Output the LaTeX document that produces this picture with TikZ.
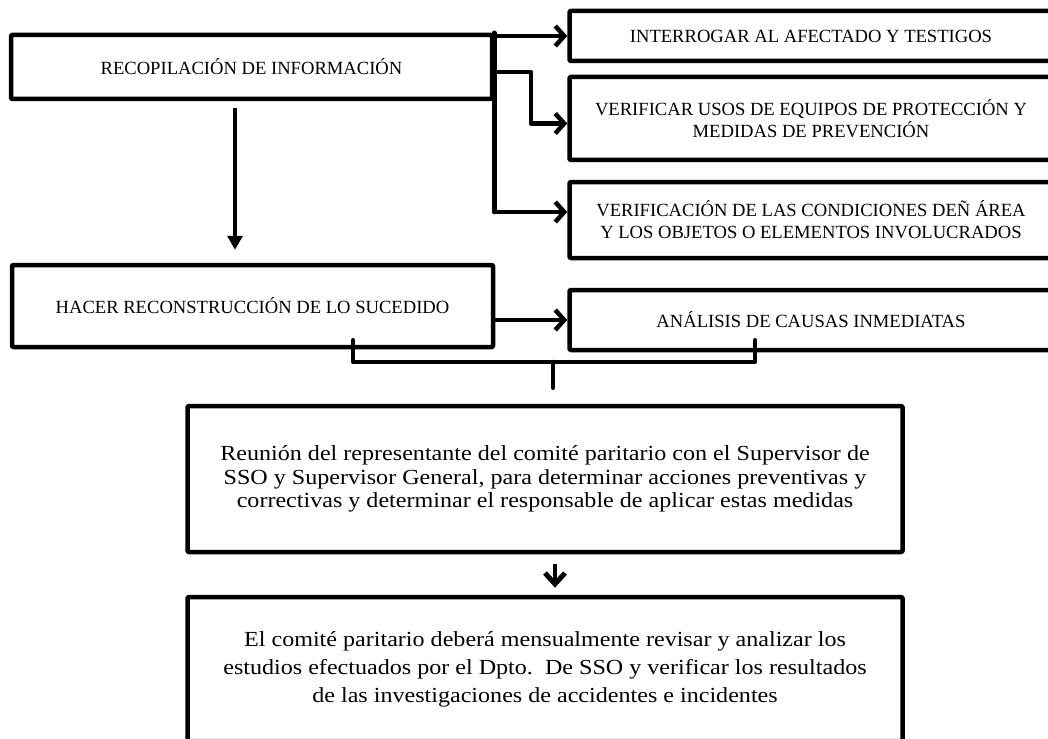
\documentclass[tikz,border=0pt]{standalone}
\usepackage{fontspec}
\setmainfont{Liberation Serif}
\newfontfamily\bodyfont[FakeStretch=1.12]{Liberation Serif}
\usetikzlibrary{arrows.meta}
\begin{document}
\begin{tikzpicture}[x=1pt,y=-1pt,
  box/.style={draw=black,line width=4.5pt,line join=round,rounded corners=1pt,fill=white,inner sep=0pt,align=center},
  capsbox/.style={box,font=\fontsize{18.6}{22}\selectfont},
  bodybox/.style={box,font=\bodyfont\fontsize{21.5}{23.5}\selectfont},
  conn/.style={line width=4.5pt,line cap=round,line join=round},
  barb/.style={conn,-{Straight Barb[length=9pt,width=20pt,line width=4.5pt]}},
  tri/.style={line width=3.5pt,-{Triangle[length=14pt,width=15pt]}},
  fatbarb/.style={line width=4.5pt,-{Straight Barb[length=11pt,width=20pt,line width=5pt]}}
  ]
\useasboundingbox (0,0) rectangle (1048,738);
\node[capsbox,minimum width=481pt,minimum height=64pt] (rec) at (251.5,67) {\raisebox{-2pt}{RECOPILACIÓN DE INFORMACIÓN}};
\node[capsbox,minimum width=483pt,minimum height=50pt] (inter) at (811,36) {INTERROGAR AL AFECTADO Y TESTIGOS};
\node[capsbox,minimum width=483pt,minimum height=83pt] (verif) at (811,118.5) {VERIFICAR USOS DE EQUIPOS DE PROTECCIÓN Y\\MEDIDAS DE PREVENCIÓN};
\node[capsbox,minimum width=483pt,minimum height=76pt] (verifc) at (811,220) {VERIFICACIÓN DE LAS CONDICIONES DEÑ ÁREA\\Y LOS OBJETOS O ELEMENTOS INVOLUCRADOS};
\node[capsbox,minimum width=481pt,minimum height=82pt] (hacer) at (252.5,306) {HACER RECONSTRUCCIÓN DE LO SUCEDIDO};
\node[capsbox,minimum width=483pt,minimum height=60pt] (anal) at (811,320) {ANÁLISIS DE CAUSAS INMEDIATAS};
\node[bodybox,minimum width=715pt,minimum height=146pt] (reun) at (545,479) {Reunión del representante del comité paritario con el Supervisor de\\SSO y Supervisor General, para determinar acciones preventivas y\\correctivas y determinar el responsable de aplicar estas medidas};
\node[bodybox,font=\bodyfont\fontsize{21.5}{28}\selectfont,minimum width=715pt,minimum height=144pt] (final) at (545,669) {El comité paritario deberá mensualmente revisar y analizar los\\estudios efectuados por el Dpto.\ \ De SSO y verificar los resultados\\de las investigaciones de accidentes e incidentes};
% branches from RECOPILACION
\coordinate (tr1) at (rec.north east |- inter.west);
\coordinate (tr3) at ([yshift=8pt]rec.east |- verifc.west);
\coordinate (b2a) at (rec.east |- 0,72);
\coordinate (b2b) at (531,72);
\draw[conn] (rec.north east) -- (tr3);
\draw[barb] (tr1) -- (inter.west);
\draw[barb] (tr3) -- ([yshift=8pt]verifc.west);
\draw[barb] (b2a) -- (b2b) |- ([yshift=-5pt]verif.west);
% down arrow
\draw[tri] ([xshift=-16.5pt,yshift=-7pt]rec.south) -- ([xshift=-17.5pt,yshift=13pt]hacer.north);
% hacer -> analisis
\draw[barb] (hacer.east |- anal.west) -- (anal.west);
% bracket
\coordinate (bl) at ([xshift=100.5pt,yshift=9pt]hacer.south);
\coordinate (br) at ([xshift=-56pt,yshift=12pt]anal.south);
\coordinate (bk) at (553,362);
\draw[conn] (bl) |- (bk) -| (br);
\draw[conn] (bk) -- ([xshift=8pt,yshift=16pt]reun.north);
% reun -> final
\draw[fatbarb] ([xshift=10pt,yshift=-10pt]reun.south) -- ([xshift=10pt,yshift=7pt]final.north);
\end{tikzpicture}
\end{document}
